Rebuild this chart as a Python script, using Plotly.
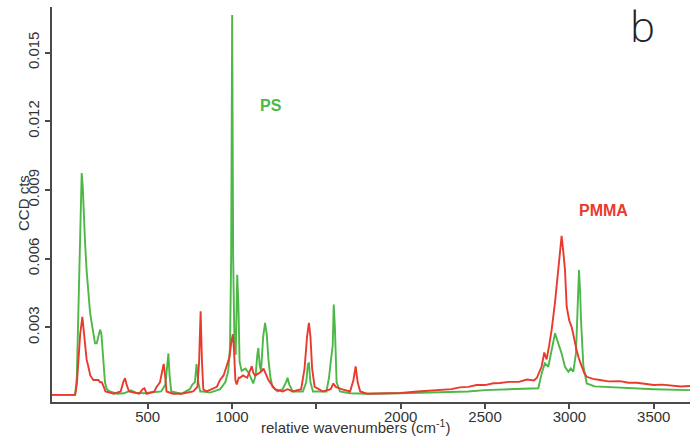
import plotly.graph_objects as go

# ---- data ----
ps_x = [-67, 70, 80, 90, 100, 109, 115, 122, 129, 138, 148, 158, 168, 178, 188, 198, 208, 218, 226, 233,
        239, 247, 258, 275, 320, 360, 400, 430, 480, 540, 580, 605, 615, 623, 630, 640, 700, 750, 765, 780,
        790, 800, 812, 830, 870, 930, 960, 978, 988, 995, 1001, 1007, 1015, 1022, 1031, 1038, 1045, 1057,
        1080, 1100, 1126, 1140, 1150, 1156, 1165, 1172, 1185, 1196, 1206, 1216, 1228, 1240, 1270, 1300,
        1320, 1329, 1340, 1360, 1420, 1440, 1450, 1456, 1465, 1480, 1560, 1575, 1587, 1597, 1603, 1610,
        1620, 1640, 1700, 1800, 2000, 2200, 2400, 2500, 2650, 2750, 2816, 2836, 2855, 2875, 2895, 2915,
        2934, 2954, 2974, 2994, 3008, 3023, 3039, 3050, 3057, 3064, 3069, 3083, 3103, 3150, 3200, 3300,
        3500, 3715]
ps_y = [0.00005, 0.00005, 0.0008, 0.004, 0.0080, 0.00974, 0.0092, 0.0078, 0.0067, 0.0055, 0.0045, 0.0037,
        0.0032, 0.0028, 0.0023, 0.0023, 0.0026, 0.0029, 0.0027, 0.0020, 0.0016, 0.0006, 0.0003, 0.0002,
        0.0001, 0.00012, 0.00025, 0.00015, 0.00012, 0.00015, 0.0002, 0.0005, 0.0013, 0.00186, 0.0009,
        0.0002, 0.0001, 0.0003, 0.0005, 0.0006, 0.0014, 0.0006, 0.0002, 0.0002, 0.00015, 0.0003, 0.0006,
        0.0011, 0.0021, 0.006, 0.01664, 0.006, 0.0020, 0.0018, 0.0053, 0.0040, 0.0015, 0.0011, 0.0012,
        0.0010, 0.00055, 0.0009, 0.0018, 0.0021, 0.0013, 0.0011, 0.0026, 0.0032, 0.0027, 0.0016, 0.0008,
        0.0004, 0.0002, 0.0003, 0.0006, 0.0008, 0.0005, 0.0002, 0.0002, 0.0006, 0.0014, 0.00143, 0.0006,
        0.0002, 0.0002, 0.0008, 0.0016, 0.0022, 0.0040, 0.0030, 0.0006, 0.0002, 0.00012, 0.0001, 0.00012,
        0.00015, 0.0002, 0.00026, 0.0003, 0.00034, 0.00034, 0.0010, 0.00143, 0.00128, 0.0020, 0.00274,
        0.0023, 0.00186, 0.00128, 0.00106, 0.00121, 0.00106, 0.00186, 0.0045, 0.0055, 0.0045, 0.0033,
        0.0013, 0.00055, 0.00042, 0.0004, 0.00035, 0.0003, 0.00026]

pmma_x = [-67, 70, 80, 90, 100, 113, 120, 129, 138, 148, 160, 178, 195, 208, 218, 228, 240, 250, 300, 340,
          355, 366, 375, 390, 450, 470, 481, 495, 540, 553, 573, 585, 595, 602, 612, 650, 700, 770, 795,
          805, 814, 822, 830, 850, 889, 910, 929, 950, 968, 985, 995, 1005, 1012, 1020, 1028, 1040, 1047,
          1065, 1090, 1105, 1117, 1127, 1137, 1160, 1178, 1187, 1200, 1216, 1235, 1255, 1300, 1330, 1360,
          1410, 1430, 1445, 1456, 1465, 1475, 1490, 1540, 1585, 1601, 1615, 1650, 1700, 1720, 1733, 1745,
          1760, 1800, 1900, 2000, 2100, 2200, 2300, 2350, 2400, 2450, 2500, 2550, 2589, 2640, 2700, 2750,
          2790, 2808, 2836, 2851, 2865, 2880, 2895, 2915, 2934, 2954, 2964, 2974, 2984, 2999, 3014, 3028,
          3043, 3058, 3073, 3088, 3103, 3140, 3181, 3230, 3300, 3350, 3400, 3450, 3500, 3550, 3600, 3660,
          3715]
pmma_y = [0.00005, 0.00005, 0.0005, 0.0015, 0.0027, 0.00346, 0.0029, 0.0021, 0.0016, 0.0013, 0.0009,
          0.0007, 0.0007, 0.0007, 0.0006, 0.0006, 0.0004, 0.0002, 0.0001, 0.0002, 0.0006, 0.00078, 0.0005,
          0.0002, 0.0001, 0.0003, 0.00034, 0.0001, 0.0002, 0.0004, 0.0006, 0.0011, 0.0014, 0.0010, 0.0002,
          0.0001, 0.0001, 0.0002, 0.0004, 0.0015, 0.0037, 0.0015, 0.0003, 0.0002, 0.00034, 0.0004, 0.0007,
          0.0009, 0.0013, 0.0017, 0.0023, 0.0027, 0.0020, 0.0007, 0.0005, 0.0008, 0.0008, 0.0009, 0.0008,
          0.0011, 0.0013, 0.0010, 0.0009, 0.0010, 0.0011, 0.0012, 0.0010, 0.0007, 0.0005, 0.0003, 0.0002,
          0.0003, 0.0002, 0.0003, 0.0012, 0.0026, 0.0032, 0.0026, 0.0012, 0.0004, 0.0002, 0.0003, 0.00055,
          0.0004, 0.0003, 0.0002, 0.0007, 0.0013, 0.0006, 0.0002, 0.0001, 0.00012, 0.00013, 0.0002, 0.00025,
          0.0003, 0.00038, 0.0004, 0.00048, 0.00048, 0.00056, 0.00057, 0.00062, 0.00062, 0.00072, 0.00068,
          0.0008, 0.0013, 0.0019, 0.0016, 0.0022, 0.0029, 0.0041, 0.0055, 0.0070, 0.0063, 0.0055, 0.0039,
          0.0033, 0.0030, 0.0025, 0.0020, 0.0016, 0.0013, 0.0010, 0.00084, 0.00075, 0.0007, 0.00064,
          0.00065, 0.00058, 0.00058, 0.00052, 0.00048, 0.00050, 0.00045, 0.00042, 0.00044]

x_ticks = [500, 1000, 1500, 2000, 2500, 3000, 3500]
x_labels = ["500", "1000", "", "2000", "2500", "3000", "3500"]
y_ticks = [0.003, 0.006, 0.009, 0.012, 0.015]
y_labels = ["0.003", "0.006", "0.009", "0.012", "0.015"]

GREEN = "#4db848"
RED = "#ea3a2e"
AX = "#4a4a4a"
TXT = "#333333"
FONT = "Liberation Sans, Arial, sans-serif"

W, H = 699, 439
L, R, T, B = 52, 9, 7, 37
PW, PH = W - L - R, H - T - B


def px_to_paper(px, py):
    return (px - L) / PW, (H - B - py) / PH


fig = go.Figure()
fig.add_trace(go.Scatter(x=ps_x, y=ps_y, mode="lines", name="PS",
                         line=dict(color=GREEN, width=1.9)))
fig.add_trace(go.Scatter(x=pmma_x, y=pmma_y, mode="lines", name="PMMA",
                         line=dict(color=RED, width=1.9)))

XR = [-67, 3715]
YR = [-0.00026, 0.01699]

fig.update_layout(
    width=W, height=H,
    margin=dict(l=L, r=R, t=T, b=B),
    paper_bgcolor="white", plot_bgcolor="white",
    showlegend=False,
    font=dict(family=FONT, size=15, color=TXT),
    xaxis=dict(range=XR, tickvals=x_ticks, ticktext=x_labels, showgrid=False, zeroline=False,
               showline=True, linecolor=AX, linewidth=1.5, ticks="outside", ticklen=5,
               tickwidth=1.5, tickcolor=AX, tickfont=dict(size=15, color=TXT), automargin=False,
               ticklabelstandoff=-5),
    xaxis2=dict(range=XR, overlaying="x", anchor="y", tickvals=x_ticks, showticklabels=False,
                showgrid=False, zeroline=False, showline=False, ticks="inside", ticklen=5,
                tickwidth=1.5, tickcolor=AX, automargin=False),
    yaxis=dict(range=YR, tickvals=y_ticks, ticktext=y_labels, showgrid=False, zeroline=False,
               showline=True, linecolor=AX, linewidth=1.5, ticks="outside", ticklen=5,
               tickwidth=1.5, tickcolor=AX, tickangle=-90, tickfont=dict(size=15, color=TXT),
               automargin=False),
    yaxis2=dict(range=YR, overlaying="y", anchor="x", tickvals=y_ticks, showticklabels=False,
                showgrid=False, zeroline=False, showline=False, ticks="inside", ticklen=5,
                tickwidth=1.5, tickcolor=AX, automargin=False),
)

ax, ay = px_to_paper(355, 427)
fig.add_annotation(x=ax, y=ay, xref="paper", yref="paper", xanchor="center", yanchor="middle",
                   text="relative wavenumbers (cm<sup>-1</sup>)",
                   showarrow=False, font=dict(size=15, color=TXT))
ax, ay = px_to_paper(23, 203)
fig.add_annotation(x=ax, y=ay, xref="paper", yref="paper", xanchor="center", yanchor="middle",
                   text="CCD cts", textangle=-90,
                   showarrow=False, font=dict(size=15, color=TXT))
fig.add_annotation(x=1231, y=0.0127, text="<b>PS</b>", showarrow=False,
                   xanchor="center", yanchor="middle", font=dict(size=16, color=GREEN))
fig.add_annotation(x=3205, y=0.0081, text="<b>PMMA</b>", showarrow=False,
                   xanchor="center", yanchor="middle", font=dict(size=16, color=RED))
ax, ay = px_to_paper(642, 25)
fig.add_annotation(x=ax, y=ay, xref="paper", yref="paper", xanchor="center", yanchor="middle",
                   text="b", showarrow=False,
                   font=dict(family="Open Sans, sans-serif", size=42, color="#222", weight=300))

fig.write_html("out.html", config={"displayModeBar": False},
               post_script="document.body.style.margin='0';window.dispatchEvent(new Event('resize'));")
